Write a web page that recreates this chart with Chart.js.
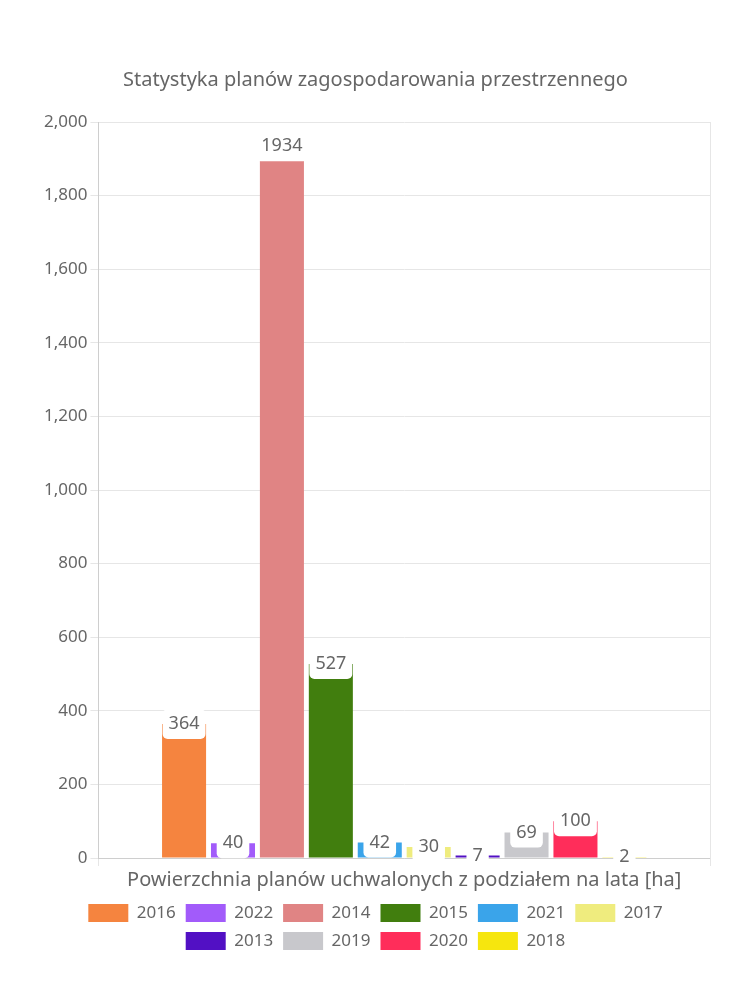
<!DOCTYPE html>
<html>
<head>
<meta charset="utf-8">
<script src="https://cdn.jsdelivr.net/npm/chart.js@4"></script>
<style>
  html, body { margin: 0; padding: 0; background: #fff; }
  #wrap { width: 750px; height: 1000px; }
</style>
</head>
<body>
<div id="wrap"><canvas id="chart"></canvas></div>
<script>
// dane z wykresu
const categories = ['Powierzchnia planów uchwalonych z podziałem na lata [ha]'];
const years = ['2016', '2022', '2014', '2015', '2021', '2017', '2013', '2019', '2020', '2018'];
const values = [364, 40, 1934, 527, 42, 30, 7, 69, 100, 2];
const colors = ['#f5843f', '#a25bfa', '#e08484', '#417e0e', '#3aa4ea', '#efec7e', '#5210c4', '#c8c8cc', '#ff2d5a', '#f6e60e'];
const yTicks = [0, 200, 400, 600, 800, 1000, 1200, 1400, 1600, 1800, 2000];

Chart.defaults.font.family = '"Noto Sans", sans-serif';
Chart.defaults.color = '#666';

// etykiety wartosci na slupkach (zamiast chartjs-plugin-datalabels)
const valueLabels = {
    id: 'valueLabels',
    afterDatasetsDraw: (chart) => {
        const ctx = chart.ctx;
        ctx.save();
        ctx.font = '18px "Noto Sans", sans-serif';
        ctx.textAlign = 'center';
        ctx.textBaseline = 'middle';
        chart.data.datasets.forEach((ds, i) => {
            const meta = chart.getDatasetMeta(i);
            meta.data.forEach((bar, j) => {
                const text = String(ds.data[j]);
                const w = ctx.measureText(text).width + 12;
                const h = 30;
                ctx.fillStyle = '#fff';
                ctx.beginPath();
                ctx.roundRect(bar.x - w / 2, bar.y - h / 2, w, h, 5);
                ctx.fill();
                ctx.fillStyle = '#666';
                ctx.fillText(text, bar.x, bar.y);
            });
        });
        ctx.restore();
    }
};

new Chart(document.getElementById('chart'), {
    type: 'bar',
    data: {
        labels: categories,
        datasets: years.map((y, i) => ({
            label: y,
            data: [values[i]],
            backgroundColor: colors[i],
            borderWidth: 0
        }))
    },
    plugins: [valueLabels],
    options: {
        responsive: true,
        maintainAspectRatio: false,
        animation: false,
        layout: { padding: { top: 58, right: 40, bottom: 40, left: 41 } },
        scales: {
            x: {
                grid: { color: '#e6e6e6' },
                ticks: { font: { size: 20 }, padding: 2 }
            },
            y: {
                min: 0,
                max: 2000,
                afterBuildTicks: (axis) => { axis.ticks = yTicks.map(v => ({ value: v })); },
                grid: { color: '#e6e6e6' },
                ticks: { font: { size: 17 } }
            }
        },
        plugins: {
            title: {
                display: true,
                text: 'Statystyka planów zagospodarowania przestrzennego',
                font: { size: 20, weight: 'normal' },
                padding: { top: 10, bottom: 30 }
            },
            legend: {
                position: 'bottom',
                labels: { font: { size: 17 }, boxWidth: 40, boxHeight: 18, padding: 10 }
            },
            tooltip: { enabled: false }
        }
    }
});
</script>
</body>
</html>
